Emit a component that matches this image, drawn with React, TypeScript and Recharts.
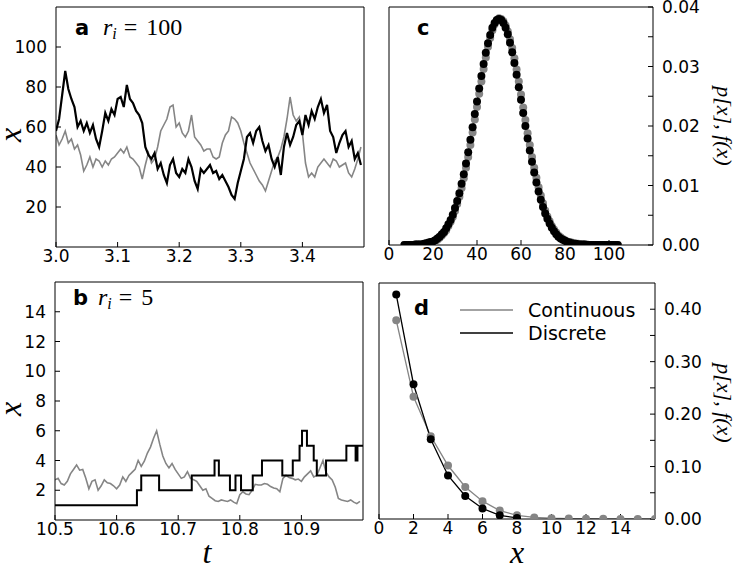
import React from "react";
import { LineChart, Line, XAxis, YAxis, Customized } from "recharts";

// panel a (r_i = 100): samples every 0.005 starting at t = 3.0
const aT0 = 3.0;
const aDt = 0.005;
const aDiscrete = [
  58, 64, 76, 88, 79, 74, 70, 60, 63, 58,
  62, 57, 61, 54, 50, 58, 67, 63, 69, 66,
  74, 75, 70, 81, 74, 72, 68, 66, 62, 50,
  46, 44, 47, 39, 42, 36, 32, 41, 44, 37,
  35, 39, 37, 44, 40, 33, 29, 39, 37, 39,
  41, 37, 38, 34, 36, 33, 30, 26, 24, 32,
  38, 44, 55, 57, 52, 58, 60, 53, 48, 51,
  44, 40, 45, 36, 50, 57, 51, 55, 61, 63,
  56, 66, 61, 68, 64, 70, 74, 67, 71, 58,
  55, 47, 52, 56, 58, 50, 53, 44, 47, 41,
];
const aContinuous = [
  56, 51, 54, 58, 52, 54, 49, 51, 46, 38,
  41, 45, 40, 44, 43, 40, 43, 41, 44, 45,
  47, 49, 47, 50, 45, 44, 42, 40, 34, 41,
  47, 42, 44, 50, 58, 61, 64, 70, 71, 60,
  62, 57, 55, 58, 66, 55, 53, 51, 48, 49,
  49, 45, 44, 45, 52, 56, 58, 65, 64, 62,
  58, 52, 47, 42, 39, 36, 33, 31, 28, 33,
  38, 43, 45, 49, 55, 64, 75, 66, 63, 65,
  57, 42, 35, 37, 35, 40, 42, 44, 42, 40,
  44, 43, 40, 41, 42, 37, 35, 39, 44, 50,
];

// panel b (r_i = 5)
const bT0 = 10.5;
const bDt = 0.005;
const bContinuous = [
  2.7, 2.8, 2.45, 2.35, 2.6, 3.1, 3.4, 3.7, 3.35, 3.4,
  2.8, 2.1, 2.6, 2.7, 2.0, 2.3, 2.7, 2.5, 2.45, 2.3,
  2.1, 2.35, 2.9, 2.6, 3.0, 3.2, 3.4, 4.0, 3.6, 3.95,
  4.5, 4.9, 5.5, 6.0, 5.1, 4.3, 3.8, 3.5, 3.8, 3.4,
  3.1, 2.8, 2.9, 3.25, 2.8, 2.7, 2.6, 2.3, 2.0, 2.1,
  1.6, 1.45, 1.3, 1.25, 1.35, 1.3, 1.25, 1.35, 1.2, 1.1,
  1.7, 1.9, 1.75, 1.7, 2.0, 2.4, 2.35, 2.35, 2.45, 2.4,
  2.25, 2.15, 2.1, 1.9, 2.8, 3.0, 2.85, 2.8, 2.7, 2.75,
  2.6, 2.9, 3.1, 3.3, 2.9, 3.0, 3.5, 4.0, 3.2, 2.9,
  2.7, 2.2, 1.45, 1.35, 1.3, 1.25, 1.35, 1.2, 1.1, 1.25,
];
const bJumpTimes = [
  10.5, 10.633, 10.64, 10.669, 10.722, 10.759, 10.766, 10.784, 10.793, 10.802,
  10.821, 10.836, 10.869, 10.886, 10.897, 10.901, 10.909, 10.92, 10.925, 10.94,
  10.973, 10.988, 10.991, 11.0,
];
const bLevels = [1, 2, 3, 2, 3, 4, 3, 2, 3, 2, 3, 4, 3, 4, 5, 6, 5, 4, 3, 4, 5, 4, 5, 5];

// panel c: x = 7 .. 104
const cX0 = 7;
const cDiscrete = [
  0, 0, 0, 0, 0, 0.0001, 0.0001, 0.0001, 0.0001, 0.0002,
  0.0003, 0.0004, 0.0005, 0.0006, 0.0008, 0.0011, 0.0014, 0.0018, 0.0022, 0.0028,
  0.0035, 0.0042, 0.0051, 0.0062, 0.0074, 0.0087, 0.0103, 0.0119, 0.0137, 0.0156,
  0.0177, 0.0198, 0.022, 0.0241, 0.0263, 0.0284, 0.0304, 0.0323, 0.0339, 0.0353,
  0.0365, 0.0373, 0.0378, 0.038, 0.0378, 0.0373, 0.0365, 0.0354, 0.034, 0.0324,
  0.0306, 0.0286, 0.0265, 0.0244, 0.0222, 0.02, 0.0179, 0.0159, 0.014, 0.0122,
  0.0105, 0.009, 0.0076, 0.0064, 0.0053, 0.0044, 0.0036, 0.0029, 0.0023, 0.0018,
  0.0014, 0.0011, 0.0009, 0.0007, 0.0005, 0.0004, 0.0003, 0.0002, 0.0002, 0.0001,
  0.0001, 0.0001, 0.0001, 0, 0, 0, 0, 0, 0, 0,
  0, 0, 0, 0, 0, 0, 0, 0,
];
const cContinuous = [
  0, 0, 0, 0, 0, 0.0001, 0.0001, 0.0001, 0.0001, 0.0002,
  0.0002, 0.0003, 0.0004, 0.0005, 0.0007, 0.0009, 0.0012, 0.0016, 0.002, 0.0025,
  0.0032, 0.0039, 0.0047, 0.0057, 0.0069, 0.0081, 0.0096, 0.0112, 0.013, 0.0148,
  0.0168, 0.0189, 0.0211, 0.0232, 0.0254, 0.0275, 0.0296, 0.0315, 0.0333, 0.0348,
  0.0361, 0.0371, 0.0377, 0.0381, 0.038, 0.0376, 0.0369, 0.0359, 0.0346, 0.0331,
  0.0314, 0.0295, 0.0275, 0.0253, 0.0231, 0.021, 0.0188, 0.0168, 0.0148, 0.013,
  0.0113, 0.0097, 0.0083, 0.007, 0.0058, 0.0048, 0.004, 0.0032, 0.0026, 0.0021,
  0.0016, 0.0013, 0.001, 0.0008, 0.0006, 0.0005, 0.0004, 0.0003, 0.0002, 0.0002,
  0.0001, 0.0001, 0.0001, 0.0001, 0, 0, 0, 0, 0, 0,
  0, 0, 0, 0, 0, 0, 0, 0,
];

// panel d (r_i = 5)
const dXDiscrete = [1, 2, 3, 4, 5, 6, 7, 8];
const dDiscrete = [0.428, 0.257, 0.152, 0.083, 0.044, 0.02, 0.007, 0.002];
const dXContinuous = [1, 2, 3, 4, 5, 6, 7, 8, 9, 10, 11, 12, 13, 14, 15, 16];
const dContinuous = [
  0.379, 0.233, 0.158, 0.102, 0.061, 0.034, 0.016, 0.007,
  0.003, 0.0015, 0.0008, 0.0005, 0.0003, 0.0002, 0.0001, 0.0001,
];

const aTicksX = [3.0, 3.1, 3.2, 3.3, 3.4];
const aTicksY = [20, 40, 60, 80, 100];
const bTicksX = [10.5, 10.6, 10.7, 10.8, 10.9];
const bTicksY = [2, 4, 6, 8, 10, 12, 14];
const cTicksX = [0, 20, 40, 60, 80, 100];
const cTicksY = [0, 0.005, 0.01, 0.015, 0.02, 0.025, 0.03, 0.035, 0.04];
const dTicksX = [0, 2, 4, 6, 8, 10, 12, 14];
const dTicksY = [0, 0.05, 0.1, 0.15, 0.2, 0.25, 0.3, 0.35, 0.4];

const aData = aDiscrete.map((v, i) => ({ t: aT0 + i * aDt, discrete: v, continuous: aContinuous[i] }));
const bData = bContinuous.map((v, i) => ({ t: bT0 + i * bDt, continuous: v }));
const bSteps = bJumpTimes.map((t, i) => ({ t, discrete: bLevels[i] }));
const cDiscreteData = cDiscrete.map((v, i) => ({ x: cX0 + i, p: v }));
const cContinuousData = cContinuous.map((v, i) => ({ x: cX0 + i, p: v }));
const dDiscreteData = dDiscrete.map((v, i) => ({ x: dXDiscrete[i], p: v }));
const dContinuousData = dContinuous.map((v, i) => ({ x: dXContinuous[i], p: v }));

const GRAY = "#858585";
const SANS = "DejaVu Sans, sans-serif";
const SERIF = "Liberation Serif, serif";
const frame = { stroke: "#000", strokeWidth: 1 };
const tickFont = { fill: "#000", fontSize: 17, fontFamily: SANS };

type AxesCfg = {
  xKey: string;
  xDomain: [number, number];
  yDomain: [number, number];
  xTicks: number[];
  yTicks: number[];
  xFmt: (v: number) => string;
  yFmt: (v: number) => string;
  xHeight: number;
  yWidth: number;
  yRight?: boolean;
};

// four-sided frame with inward ticks, like the classic matplotlib style.
// the mirror axes get 1px so recharts still draws them
function frameAxes(c: AxesCfg) {
  const common = { type: "number" as const, allowDataOverflow: true, interval: 0 as const, tickSize: -5, axisLine: frame, tickLine: frame };
  return [
    <XAxis key="xb" xAxisId="b" dataKey={c.xKey} domain={c.xDomain} ticks={c.xTicks} tickFormatter={c.xFmt} tickMargin={8} height={c.xHeight} tick={tickFont} {...common} />,
    <XAxis key="xt" xAxisId="t" orientation="top" domain={c.xDomain} ticks={c.xTicks} height={1} tick={false} {...common} />,
    <YAxis key="yl" yAxisId="l" domain={c.yDomain} ticks={c.yTicks} tickFormatter={c.yFmt} tickMargin={14} width={c.yRight ? 1 : c.yWidth} tick={c.yRight ? false : tickFont} {...common} />,
    <YAxis key="yr" yAxisId="r" orientation="right" domain={c.yDomain} ticks={c.yTicks} tickFormatter={c.yFmt} tickMargin={14} width={c.yRight ? c.yWidth : 1} tick={c.yRight ? tickFont : false} {...common} />,
  ];
}

const fmt1 = (v: number) => v.toFixed(1);
const fmt0 = (v: number) => String(v);
const fmtC = (v: number) => (Math.round(v * 1000) % 10 === 0 ? v.toFixed(2) : "");
const fmtD = (v: number) => (Math.round(v * 100) % 10 === 0 ? v.toFixed(2) : "");

function RiLabel({ x, y, value }: { x: number; y: number; value: string }) {
  return (
    <text x={x} y={y} fontFamily={SERIF} fontSize={24} fill="#000">
      <tspan fontStyle="italic">r</tspan>
      <tspan fontStyle="italic" fontSize={16} dy={4}>i</tspan>
      <tspan dy={-4} dx={7}>=</tspan>
      <tspan dx={9}>{value}</tspan>
    </text>
  );
}

const panelLetter = { fontFamily: SANS, fontWeight: 700, fontSize: 21, fill: "#000" };
const axisTitle = { fontFamily: SERIF, fontStyle: "italic", fontSize: 32, fill: "#000" };
const probTitle = { fontFamily: SERIF, fontStyle: "italic", fontSize: 22, fill: "#000" };

function PanelA() {
  return (
    <LineChart width={370} height={270} data={aData} margin={{ top: 6, right: 5, bottom: 0, left: 0 }}>
      {frameAxes({ xKey: "t", xDomain: [3.0, 3.5], yDomain: [0, 120], xTicks: aTicksX, yTicks: aTicksY, xFmt: fmt1, yFmt: fmt0, xHeight: 23, yWidth: 56 })}
      <Line xAxisId="b" yAxisId="l" dataKey="continuous" stroke={GRAY} strokeWidth={1.6} dot={false} isAnimationActive={false} />
      <Line xAxisId="b" yAxisId="l" dataKey="discrete" stroke="#000" strokeWidth={2.2} dot={false} isAnimationActive={false} />
      <Customized
        component={() => (
          <g>
            <text x={75} y={35} {...panelLetter}>a</text>
            <RiLabel x={103} y={35} value="100" />
            <text x={21} y={135} textAnchor="middle" transform="rotate(-90 21 135)" {...axisTitle}>x</text>
          </g>
        )}
      />
    </LineChart>
  );
}

function PanelB() {
  return (
    <LineChart width={370} height={299} data={bData} margin={{ top: 11, right: 6, bottom: 0, left: 0 }}>
      {frameAxes({ xKey: "t", xDomain: [10.5, 11.0], yDomain: [0, 16], xTicks: bTicksX, yTicks: bTicksY, xFmt: fmt1, yFmt: fmt0, xHeight: 49, yWidth: 55 })}
      <Line xAxisId="b" yAxisId="l" dataKey="continuous" stroke={GRAY} strokeWidth={1.6} dot={false} isAnimationActive={false} />
      <Line xAxisId="b" yAxisId="l" data={bSteps} dataKey="discrete" type="stepAfter" stroke="#000" strokeWidth={2} dot={false} isAnimationActive={false} />
      <Customized
        component={() => (
          <g>
            <text x={73} y={35} {...panelLetter}>b</text>
            <RiLabel x={98} y={35} value="5" />
            <text x={21} y={139} textAnchor="middle" transform="rotate(-90 21 139)" {...axisTitle}>x</text>
            <text x={207} y={293} textAnchor="middle" {...axisTitle}>t</text>
          </g>
        )}
      />
    </LineChart>
  );
}

function PanelC() {
  return (
    <LineChart width={366} height={270} margin={{ top: 6, right: 0, bottom: 0, left: 18 }}>
      {frameAxes({ xKey: "x", xDomain: [0, 120], yDomain: [0, 0.04], xTicks: cTicksX, yTicks: cTicksY, xFmt: fmt0, yFmt: fmtC, xHeight: 25, yWidth: 83, yRight: true })}
      <Line xAxisId="b" yAxisId="l" data={cContinuousData} dataKey="p" stroke={GRAY} strokeWidth={1} dot={{ r: 4, fill: GRAY, stroke: GRAY, strokeWidth: 0 }} activeDot={false} isAnimationActive={false} />
      <Line xAxisId="b" yAxisId="l" data={cDiscreteData} dataKey="p" stroke="#000" strokeWidth={1} dot={{ r: 4, fill: "#000", stroke: "#000", strokeWidth: 0 }} activeDot={false} isAnimationActive={false} />
      <Customized
        component={() => (
          <g>
            <text x={47} y={35} {...panelLetter}>c</text>
            <text x={347} y={126} textAnchor="middle" transform="rotate(90 347 126)" {...probTitle}>p[x], f(x)</text>
          </g>
        )}
      />
    </LineChart>
  );
}

function PanelD() {
  return (
    <LineChart width={366} height={299} margin={{ top: 12, right: 0, bottom: 0, left: 8 }}>
      {frameAxes({ xKey: "x", xDomain: [0, 16], yDomain: [0, 0.45], xTicks: dTicksX, yTicks: dTicksY, xFmt: fmt0, yFmt: fmtD, xHeight: 50, yWidth: 81, yRight: true })}
      <Line xAxisId="b" yAxisId="l" data={dContinuousData} dataKey="p" stroke={GRAY} strokeWidth={1.3} dot={{ r: 4, fill: GRAY, stroke: GRAY, strokeWidth: 0 }} activeDot={false} isAnimationActive={false} />
      <Line xAxisId="b" yAxisId="l" data={dDiscreteData} dataKey="p" stroke="#000" strokeWidth={1.3} dot={{ r: 4, fill: "#000", stroke: "#000", strokeWidth: 0 }} activeDot={false} isAnimationActive={false} />
      <Customized
        component={() => (
          <g>
            <text x={44} y={45} {...panelLetter}>d</text>
            <line x1={90} x2={143} y1={40} y2={40} stroke={GRAY} strokeWidth={1.5} />
            <text x={158} y={40} dy="0.35em" fontFamily={SANS} fontSize={19} fill="#000">Continuous</text>
            <line x1={90} x2={143} y1={63} y2={63} stroke="#000" strokeWidth={1.5} />
            <text x={158} y={63} dy="0.35em" fontFamily={SANS} fontSize={19} fill="#000">Discrete</text>
            <text x={147} y={293} textAnchor="middle" {...axisTitle}>x</text>
            <text x={347} y={133} textAnchor="middle" transform="rotate(90 347 133)" {...probTitle}>p[x], f(x)</text>
          </g>
        )}
      />
    </LineChart>
  );
}

export default function App() {
  return (
    <div style={{ position: "absolute", left: 0, top: 0, width: 736, height: 569, background: "#fff" }}>
      <div style={{ position: "absolute", left: 0, top: 0 }}><PanelA /></div>
      <div style={{ position: "absolute", left: 0, top: 270 }}><PanelB /></div>
      <div style={{ position: "absolute", left: 370, top: 0 }}><PanelC /></div>
      <div style={{ position: "absolute", left: 370, top: 270 }}><PanelD /></div>
    </div>
  );
}
